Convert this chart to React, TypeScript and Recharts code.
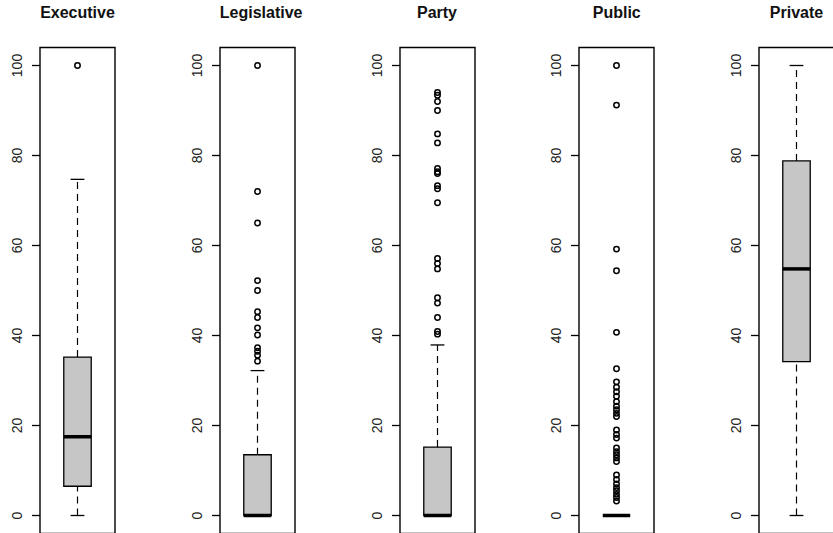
import {
  ComposedChart,
  XAxis,
  YAxis,
  ReferenceArea,
  ReferenceLine,
  Scatter,
  Line,
} from "recharts";

const categories = ["Executive", "Legislative", "Party", "Public", "Private"];

// five-number summaries per category
const lowerWhisker = [0, 0, 0, 0, 0];
const lowerQuartile = [6.5, 0, 0, 0, 34.2];
const medians = [17.5, 0, 0, 0, 54.8];
const upperQuartile = [35.2, 13.5, 15.2, 0, 78.8];
const upperWhisker = [74.7, 32.2, 37.9, 0, 100];

const executiveOutliers = [100];
const legislativeOutliers = [100, 72, 65, 52.2, 50, 45.3, 44, 41.7, 40.1, 37.3, 36.5, 35.6, 34.3];
const partyOutliers = [
  94, 93.4, 92, 90, 84.8, 82.8, 77.1, 76.4, 76, 73.3, 72.6, 69.5, 57.1, 56, 54.8, 48.4, 47.2, 44,
  40.9, 40.3,
];
const publicOutliers = [
  100, 91.2, 59.2, 54.4, 40.7, 32.6, 29.7, 28.5, 27.5, 26.5, 25.3, 24.3, 23.5, 22.7, 22, 19, 18,
  17.2, 15, 14.2, 13.5, 12.8, 12, 9, 8, 7, 6.2, 5.5, 4.7, 4, 3.2,
];
const privateOutliers: number[] = [];

const outliers = [executiveOutliers, legislativeOutliers, partyOutliers, publicOutliers, privateOutliers];

const yTicks = [0, 20, 40, 60, 80, 100];

const PANEL_STEP = 179.75;
const CENTER = 0.5;
const BOX_HALF = 0.183;
const CAP_HALF = 0.092;
const FONT = "'Liberation Sans', Arial, Helvetica, sans-serif";

function RotatedTick(props: any) {
  const { x, y, payload } = props;
  return (
    <text
      x={x}
      y={y}
      transform={`rotate(-90, ${x}, ${y})`}
      textAnchor="middle"
      fontSize={14}
      fontFamily={FONT}
      fill="#222"
    >
      {payload.value}
    </text>
  );
}

function OpenCircle(props: any) {
  const { cx, cy } = props;
  return <circle cx={cx} cy={cy} r={2.7} fill="none" stroke="#000" strokeWidth={1.5} />;
}

function BoxPanel({ index }: { index: number }) {
  const points = outliers[index].map((v) => ({ x: CENTER, y: v }));
  const lo = lowerWhisker[index];
  const q1 = lowerQuartile[index];
  const med = medians[index];
  const q3 = upperQuartile[index];
  const hi = upperWhisker[index];
  // dashed whiskers: lo -> q1, gap, q3 -> hi
  const whiskers = [
    { x: CENTER, y: lo },
    { x: CENTER, y: q1 },
    { x: CENTER, y: null },
    { x: CENTER, y: q3 },
    { x: CENTER, y: hi },
  ];

  return (
    <div style={{ position: "absolute", left: index * PANEL_STEP, top: 0, width: 180, height: 560 }}>
      <div
        style={{
          position: "absolute",
          left: 40,
          width: 75,
          top: 4,
          textAlign: "center",
          fontFamily: FONT,
          fontWeight: "bold",
          fontSize: 16,
          whiteSpace: "nowrap",
          color: "#111",
        }}
      >
        {categories[index]}
      </div>
      <ComposedChart width={180} height={560} margin={{ top: 47.5, right: 65, bottom: 26.5, left: 0 }}>
        <XAxis type="number" dataKey="x" domain={[0, 1]} hide />
        <YAxis
          type="number"
          dataKey="y"
          domain={[-4, 104]}
          ticks={yTicks}
          width={40}
          axisLine={false}
          tickSize={8}
          tickMargin={10}
          tickLine={{ stroke: "#000", strokeWidth: 1.3 }}
          tick={<RotatedTick />}
          allowDataOverflow
        />
        <ReferenceArea
          x1={0}
          x2={1}
          y1={-4}
          y2={104}
          fill="none"
          stroke="#000"
          strokeWidth={1.4}
          ifOverflow="visible"
        />
        <Line
          data={whiskers}
          dataKey="y"
          stroke="#000"
          strokeWidth={1.2}
          strokeDasharray="7 5"
          dot={false}
          activeDot={false}
          connectNulls={false}
          isAnimationActive={false}
        />
        {hi > q3 && (
          <ReferenceLine
            segment={[
              { x: CENTER - CAP_HALF, y: hi },
              { x: CENTER + CAP_HALF, y: hi },
            ]}
            stroke="#000"
            strokeWidth={1.3}
            ifOverflow="visible"
          />
        )}
        {q1 > lo && (
          <ReferenceLine
            segment={[
              { x: CENTER - CAP_HALF, y: lo },
              { x: CENTER + CAP_HALF, y: lo },
            ]}
            stroke="#000"
            strokeWidth={1.3}
            ifOverflow="visible"
          />
        )}
        {q3 > q1 && (
          <ReferenceArea
            x1={CENTER - BOX_HALF}
            x2={CENTER + BOX_HALF}
            y1={q1}
            y2={q3}
            fill="#c6c6c6"
            fillOpacity={1}
            stroke="#000"
            strokeWidth={1.3}
            ifOverflow="visible"
          />
        )}
        <ReferenceLine
          segment={[
            { x: CENTER - BOX_HALF, y: med },
            { x: CENTER + BOX_HALF, y: med },
          ]}
          stroke="#000"
          strokeWidth={3.5}
          ifOverflow="visible"
        />
        {points.length > 0 && (
          <Scatter data={points} shape={<OpenCircle />} isAnimationActive={false} />
        )}
      </ComposedChart>
    </div>
  );
}

export default function App() {
  return (
    <div
      style={{
        position: "absolute",
        left: 0,
        top: 0,
        width: 833,
        height: 533,
        overflow: "hidden",
        background: "#fff",
      }}
    >
      {categories.map((c, i) => (
        <BoxPanel key={c} index={i} />
      ))}
    </div>
  );
}
